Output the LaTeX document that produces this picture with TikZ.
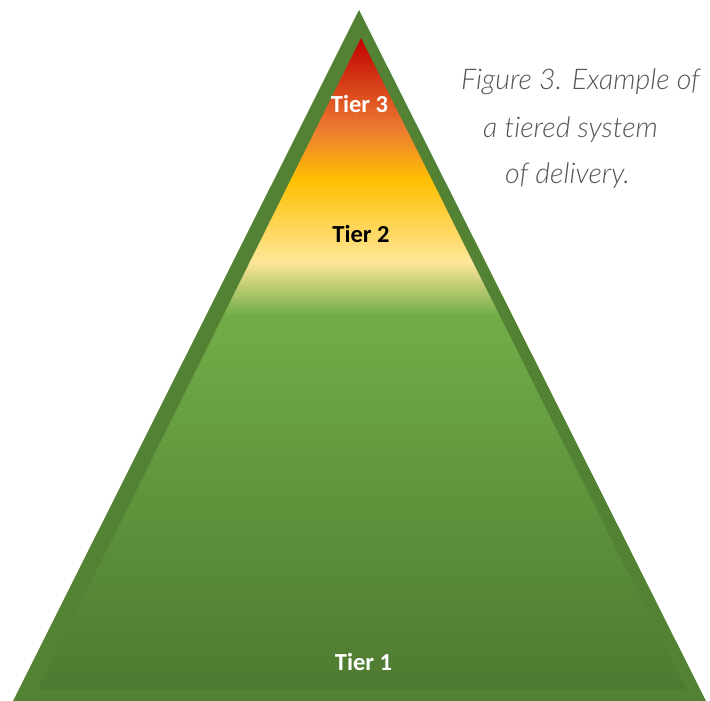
\documentclass[tikz,border=0pt]{standalone}
\usepackage{fontspec}
\setmainfont{Carlito}
\newfontfamily\capfont{Lato Light}[ItalicFont={Lato Light Italic}, Ligatures=NoCommon]
\definecolor{borderG}{HTML}{548235}
\definecolor{capG}{HTML}{555555}
\definecolor{sDark}{HTML}{4E7A31}
\definecolor{sGreen}{HTML}{70AD47}
\definecolor{sPale}{HTML}{FFE699}
\definecolor{sYellow}{HTML}{FFC000}
\definecolor{sOrange}{HTML}{ED7D31}
\definecolor{sRed}{HTML}{C00000}
\pgfdeclareverticalshading{tiers}{100bp}{%
  color(0bp)=(sDark); color(25bp)=(sDark);
  color(53.7bp)=(sGreen); color(57.8bp)=(sPale);
  color(64.1bp)=(sYellow); color(67.9bp)=(sOrange);
  color(75bp)=(sRed); color(100bp)=(sRed)}
\tikzset{
  tierlbl/.style={font=\fontsize{24.5}{27}\selectfont\bfseries, inner sep=0pt, anchor=base},
  caption/.style={font=\capfont\itshape\fontsize{28.5}{31}\selectfont, text=capG, inner sep=0pt, anchor=base west}
}
\begin{document}
\begin{tikzpicture}[x=1pt,y=-1pt]
\useasboundingbox (0,0) rectangle (710,701);
\coordinate (oa) at (359,10);
\coordinate (ol) at (13,701);
\coordinate (or) at (706,701);
\coordinate (ia) at (361,38);
\coordinate (il) at (38,689);
\coordinate (ir) at (686,689);
\fill[borderG] (ol) -- (oa) -- (or) -- cycle;
\shade[shading=tiers] (il) -- (ia) -- (ir) -- cycle;
\node[tierlbl, text=white] (t3) at (359.5,112) {Tier 3};
\node[tierlbl, text=black] (t2) at (361,242) {Tier 2};
\node[tierlbl, text=white] (t1) at (363.5,670) {Tier 1};
\node[caption] (c1) at (461,89) {Figure 3. Example of};
\node[caption] (c2) at (483,137) {a tiered system};
\node[caption] (c3) at (505,183) {of delivery.};
\end{tikzpicture}
\end{document}
